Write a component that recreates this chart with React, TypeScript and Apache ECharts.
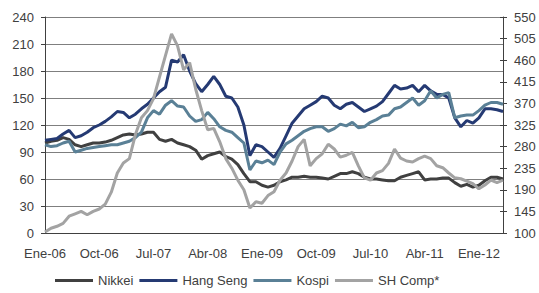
import React, { useEffect, useRef } from "react";
import * as echarts from "echarts";

const categories = [
  "Ene-06","Feb-06","Mar-06","Abr-06","May-06","Jun-06","Jul-06","Ago-06","Sep-06","Oct-06","Nov-06","Dic-06",
  "Ene-07","Feb-07","Mar-07","Abr-07","May-07","Jun-07","Jul-07","Ago-07","Sep-07","Oct-07","Nov-07","Dic-07",
  "Ene-08","Feb-08","Mar-08","Abr-08","May-08","Jun-08","Jul-08","Ago-08","Sep-08","Oct-08","Nov-08","Dic-08",
  "Ene-09","Feb-09","Mar-09","Abr-09","May-09","Jun-09","Jul-09","Ago-09","Sep-09","Oct-09","Nov-09","Dic-09",
  "Ene-10","Feb-10","Mar-10","Abr-10","May-10","Jun-10","Jul-10","Ago-10","Sep-10","Oct-10","Nov-10","Dic-10",
  "Ene-11","Feb-11","Mar-11","Abr-11","May-11","Jun-11","Jul-11","Ago-11","Sep-11","Oct-11","Nov-11","Dic-11",
  "Ene-12","Feb-12","Mar-12","Abr-12","May-12",
];

const nikkei = [
  100, 102, 103, 106, 104, 98, 96, 98, 100, 100, 101, 103, 106, 109, 110, 109, 110, 112, 112, 104,
  102, 104, 100, 98, 96, 92, 82, 86, 88, 90, 85, 82, 76, 66, 57, 57, 53, 51, 53, 57,
  59, 62, 62, 63, 62, 62, 61, 60, 63, 66, 66, 68, 66, 62, 60, 60, 59, 58, 58,
  62, 64, 66, 68, 59, 60, 60, 61, 61, 56, 52, 54, 51, 53, 58, 62, 62, 60,
];

const hangSeng = [
  103, 104, 105, 110, 114, 106, 108, 112, 117, 120, 124, 129, 135, 134, 128, 132, 138, 143, 150, 157,
  162, 192, 190, 198, 180, 166, 157, 165, 174, 165, 152, 150, 140, 120, 86, 98, 96, 90, 84, 94,
  108, 122, 130, 138, 142, 146, 152, 150, 142, 138, 143, 145, 140, 135, 138, 141, 146, 155, 164,
  160, 161, 164, 157, 164, 158, 154, 154, 150, 128, 118, 125, 122, 128, 138, 138, 137, 135,
];

const kospi = [
  98, 96, 97, 100, 102, 90, 92, 94, 95, 96, 97, 98, 98, 100, 102, 106, 112, 128, 136, 132,
  142, 147, 141, 140, 130, 124, 126, 134, 127, 118, 114, 112, 106, 100, 70, 80, 78, 81, 76, 90,
  99, 103, 108, 113, 116, 118, 118, 113, 116, 121, 119, 123, 117, 118, 123, 126, 130, 131, 138,
  140, 145, 150, 142, 147, 158, 150, 154, 156, 128, 130, 131, 131, 136, 142, 145, 145, 143,
];

const shComp = [
  102, 110, 114, 120, 135, 140, 145, 138, 145, 150, 160, 185, 225, 246, 255, 305, 340, 355, 380, 425,
  470, 515, 490, 440, 455, 400, 355, 315, 318, 290, 255, 235, 210, 190, 152, 165, 162, 178, 186, 210,
  225, 250, 280, 295, 240, 255, 265, 285, 275, 258, 262, 268, 240, 215, 210, 225, 230, 245, 275,
  256, 250, 248, 255, 260, 255, 240, 236, 225, 215, 213, 208, 203, 192, 200, 210, 205, 210,
];

const leftTicks = { min: 0, max: 240, interval: 30 };
const rightTicks = { min: 100, max: 550, interval: 45 };

export default function App() {
  const ref = useRef<HTMLDivElement>(null);
  useEffect(() => {
    document.body.style.margin = "0";
    if (!ref.current) return;
    const chart = echarts.init(ref.current, null, { renderer: "svg" });
    const font = "Liberation Sans, Arial, sans-serif";
    const labelColor = "#404040";
    const fs = 13;
    const mk = (name: string, data: number[], color: string, yIdx: number) => ({
      name,
      type: "line",
      data,
      yAxisIndex: yIdx,
      showSymbol: false,
      symbol: "none",
      lineStyle: { color, width: 3 },
      itemStyle: { color },
    });
    chart.setOption({
      animation: false,
      textStyle: { fontFamily: font },
      grid: { left: 45, right: 36, top: 17, bottom: 60 },
      legend: {
        left: 55,
        top: 274,
        padding: 0,
        icon: "rect",
        itemWidth: 38,
        itemHeight: 3,
        itemGap: 6,
        textStyle: { fontSize: fs, color: labelColor, fontFamily: font },
        data: ["Nikkei", "Hang Seng", "Kospi", "SH Comp*"],
      },
      xAxis: {
        type: "category",
        data: categories,
        boundaryGap: false,
        axisLine: { lineStyle: { color: "#404040", width: 1 } },
        axisTick: { show: false },
        axisLabel: {
          interval: 8,
          color: labelColor,
          fontSize: fs,
          margin: 14,
          fontFamily: font,
        },
        splitLine: { show: false },
      },
      yAxis: [
        {
          type: "value",
          ...leftTicks,
          position: "left",
          axisLine: { show: true, lineStyle: { color: "#404040" } },
          axisTick: { show: true, length: 4, lineStyle: { color: "#404040" } },
          axisLabel: { color: labelColor, fontSize: fs, margin: 11, fontFamily: font },
          splitLine: { show: true, lineStyle: { color: "#7f7f7f", width: 1 } },
        },
        {
          type: "value",
          ...rightTicks,
          position: "right",
          axisLine: { show: true, lineStyle: { color: "#404040" } },
          axisTick: { show: true, length: 4, lineStyle: { color: "#404040" } },
          axisLabel: { color: labelColor, fontSize: fs, margin: 11, fontFamily: font },
          splitLine: { show: false },
        },
        {
          type: "value",
          ...rightTicks,
          position: "right",
          axisLine: { show: false },
          axisTick: { show: true, inside: true, length: 3, lineStyle: { color: "#404040" } },
          axisLabel: { show: false },
          splitLine: { show: false },
        },
      ],
      series: [
        mk("Nikkei", nikkei, "#404040", 0),
        mk("Hang Seng", hangSeng, "#253A73", 0),
        mk("Kospi", kospi, "#5A8096", 0),
        mk("SH Comp*", shComp, "#A3A3A3", 1),
      ],
    });
    return () => chart.dispose();
  }, []);
  return <div ref={ref} style={{ width: 539, height: 293 }} />;
}
